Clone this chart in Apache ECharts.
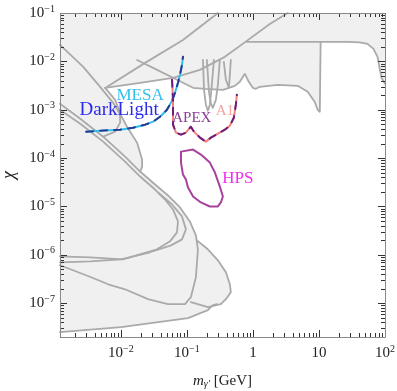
<!DOCTYPE html>
<html>
<head>
<meta charset="utf-8">
<title>dark photon</title>
<script src="https://cdn.jsdelivr.net/npm/echarts@6/dist/echarts.min.js"></script>
<style>
  html, body { margin: 0; padding: 0; background: #fff; }
  #main { width: 397px; height: 391px; }
</style>
</head>
<body>
<div id="main"></div>
<script>
// 坐标范围
const xMin = 1.2e-3, xMax = 100;
const yMin = 2e-8, yMax = 0.1;
const xTickLabels = [1e-2, 1e-1, 1, 10, 100];
const yTickLabels = [1e-7, 1e-6, 1e-5, 1e-4, 1e-3, 1e-2, 1e-1];
const xDecades = [1e-3, 1e-2, 1e-1, 1, 10, 100];
const yDecades = [1e-8, 1e-7, 1e-6, 1e-5, 1e-4, 1e-3, 1e-2, 1e-1];

// 未被排除的区域（白色）
const allowedRegion = [
  [1.2e-3, 2e-8],
  [1.2e-3, 2.52e-8], [1.01e-2, 3.2e-8], [6.17e-2, 4.46e-8], [0.104, 4.91e-8], [0.208, 7.17e-8], [0.248, 9.09e-8],
  [0.327, 9.53e-8], [0.39, 1.21e-7], [0.463, 1.69e-7], [0.448, 2.46e-7], [0.39, 4.36e-7], [0.295, 7.7e-7],
  [0.208, 1.3e-6], [0.142, 1.99e-6], [0.137, 2.52e-6], [0.111, 4.91e-6], [7.87e-2, 9.53e-6], [5.18e-2, 1.69e-5],
  [3.3e-2, 2.84e-5], [1.96e-2, 5.27e-5], [2.1e-2, 6.68e-5], [2.1e-2, 9.31e-5], [1.76e-2, 2.09e-4],
  [1.24e-2, 4.46e-4], [1.05e-2, 6.84e-4], [9.76e-3, 8.67e-4], [8.2e-3, 1.61e-3], [5.79e-3, 2.84e-3],
  [1.96e-2, 3.6e-3], [6.17e-2, 4.57e-3], [9.35e-2, 3.44e-3], [0.124, 2.84e-3], [0.188, 2.71e-3],
  [0.351, 2.58e-3], [0.533, 3.12e-3], [0.634, 3.78e-3], [0.755, 5.52e-3], [0.867, 3.78e-3], [0.997, 2.84e-3],
  [1.11, 2.71e-3], [1.27, 2.98e-3], [2.38, 3.28e-3], [4.77, 3.12e-3], [6.75, 2.35e-3], [8.61, 1.46e-3],
  [9.56, 1.0e-3], [10.3, 9.09e-4], [10.6, 9.09e-4], [10.6, 2.52e-2], [27.2, 2.52e-2], [41.3, 2.46e-2],
  [54.5, 2.3e-2], [67, 1.81e-2], [77.1, 1.24e-2], [82.7, 7.35e-3], [88.5, 4.57e-3], [100, 3.44e-3],
  [100, 2e-8]
];

// 灰色约束曲线
const curveA = [[1.2e-3, 2.19e-2], [2.7e-3, 7.71e-3], [4.86e-3, 2.98e-3], [7.65e-3, 1.39e-3], [1.05e-2, 6.84e-4],
  [1.24e-2, 4.46e-4], [1.76e-2, 2.09e-4], [2.1e-2, 9.31e-5], [2.1e-2, 6.68e-5], [1.96e-2, 5.27e-5]];
const curveB = [[5.79e-3, 2.84e-3], [8.2e-3, 1.61e-3], [9.76e-3, 8.67e-4], [9.76e-3, 5.4e-4], [8.2e-3, 3.52e-4], [5.4e-3, 2.77e-4]];
const beamDump1 = [[1.2e-3, 1.33e-3], [2.43e-3, 6.52e-4], [5.4e-3, 2.77e-4], [1.16e-2, 1.07e-4], [1.96e-2, 5.27e-5],
  [3.3e-2, 2.84e-5], [5.18e-2, 1.69e-5], [7.87e-2, 9.53e-6], [0.111, 4.91e-6], [0.137, 2.52e-6], [0.147, 1.3e-6],
  [0.137, 3.44e-7], [0.115, 1.33e-7], [9.35e-2, 9.53e-8], [5.18e-2, 9.53e-8], [2.58e-2, 1.21e-7], [1.16e-2, 1.94e-7],
  [6.43e-3, 2.46e-7], [3.56e-3, 3.44e-7], [1.2e-3, 6.08e-7]];
const beamDump2 = [[1.2e-3, 1.0e-3], [2.43e-3, 5.15e-4], [5.4e-3, 2.19e-4], [1.16e-2, 8.47e-5], [1.96e-2, 4.16e-5],
  [3.3e-2, 2.24e-5], [4.67e-2, 1.39e-5], [6.17e-2, 8.67e-6], [7.34e-2, 4.91e-6], [7.08e-2, 2.91e-6], [5.56e-2, 1.9e-6],
  [3.53e-2, 1.3e-6], [1.08e-2, 8.07e-7], [3.44e-3, 8.87e-7], [1.2e-3, 9.31e-7]];
const beamDump3 = [[3.66e-2, 1.94e-5], [5.96e-2, 1.1e-5], [8.44e-2, 6.22e-6], [9.68e-2, 3.36e-6], [8.44e-2, 2.09e-6],
  [5.75e-2, 1.57e-6], [2.77e-2, 1.13e-6], [1.01e-2, 8.07e-7], [3.44e-3, 7.34e-7], [1.2e-3, 7.0e-7]];
const rightLobe = [[0.142, 1.99e-6], [0.208, 1.3e-6], [0.295, 7.7e-7], [0.39, 4.36e-7], [0.448, 2.46e-7], [0.463, 1.69e-7],
  [0.39, 1.21e-7], [0.327, 9.53e-8], [0.208, 8.27e-8], [0.115, 1.05e-7]];
const bottomLine = [[1.2e-3, 2.52e-8], [1.01e-2, 3.2e-8], [6.17e-2, 4.46e-8], [0.104, 4.91e-8], [0.208, 7.17e-8],
  [0.248, 9.09e-8], [0.285, 9.53e-8]];
const upperLine1 = [[6.21e-3, 2.98e-3], [2.33e-2, 9.31e-3], [8.73e-2, 2.77e-2], [0.295, 0.1]];
const upperLine2 = [[5.79e-3, 2.84e-3], [1.96e-2, 3.6e-3], [6.17e-2, 4.57e-3], [0.158, 6.68e-3], [0.376, 1.24e-2],
  [0.809, 2.65e-2], [1.8, 5.93e-2], [3.37, 0.1]];
const envelopeLine = [[1.76e-2, 1.07e-2], [3.3e-2, 7.0e-3], [6.17e-2, 4.57e-3], [9.35e-2, 3.44e-3], [0.124, 2.84e-3],
  [0.188, 2.71e-3], [0.351, 2.58e-3], [0.533, 3.12e-3], [0.634, 3.78e-3], [0.755, 5.52e-3], [0.867, 3.78e-3],
  [0.997, 2.84e-3], [1.11, 2.71e-3], [1.27, 2.98e-3], [2.38, 3.28e-3], [4.77, 3.12e-3], [6.75, 2.35e-3],
  [8.61, 1.46e-3], [9.56, 1.0e-3], [10.3, 9.09e-4], [10.6, 9.09e-4], [10.6, 2.52e-2]];
const topLine = [[0.809, 2.52e-2], [27.2, 2.52e-2], [41.3, 2.46e-2], [54.5, 2.3e-2], [67, 1.81e-2], [77.1, 1.24e-2],
  [82.7, 7.35e-3], [88.5, 4.57e-3], [100, 3.44e-3]];
const comb1 = [[0.175, 1.07e-2], [0.182, 2.58e-3], [0.194, 1.27e-3], [0.208, 9.53e-4], [0.223, 1.27e-3], [0.239, 3.28e-3], [0.257, 1.07e-2]];
const comb2 = [[0.201, 1.07e-2], [0.216, 2.35e-3], [0.231, 1.33e-3], [0.248, 1.1e-3], [0.275, 1.61e-3], [0.295, 3.28e-3], [0.316, 1.07e-2]];
const comb3 = [[0.363, 9.77e-3], [0.39, 4.16e-3], [0.433, 2.84e-3], [0.448, 5.27e-3], [0.463, 1.07e-2]];

// 未来实验的预期灵敏度
const darkLightMesa = [[2.99e-3, 3.52e-4], [4.86e-3, 3.69e-4], [9.76e-3, 3.87e-4], [1.53e-2, 4.25e-4], [2.33e-2, 4.91e-4],
  [3.08e-2, 5.66e-4], [3.92e-2, 7.18e-4], [5.0e-2, 1.0e-3], [5.96e-2, 1.53e-3], [6.61e-2, 2.24e-3], [7.34e-2, 3.6e-3],
  [7.87e-2, 5.27e-3], [8.44e-2, 8.47e-3], [8.73e-2, 1.24e-2]];
const apexA1 = [[5.96e-2, 4.16e-3], [6.17e-2, 1.61e-3], [6.17e-2, 4.91e-4], [6.84e-2, 3.36e-4], [8.15e-2, 3.05e-4],
  [9.68e-2, 3.36e-4], [0.115, 4.46e-4], [0.128, 3.52e-4], [0.158, 2.65e-4], [0.194, 2.19e-4], [0.231, 2.65e-4],
  [0.295, 3.2e-4], [0.376, 3.87e-4], [0.448, 4.68e-4], [0.514, 6.84e-4], [0.552, 1.27e-3], [0.571, 2.04e-3]];
const hps = [[8.15e-2, 1.36e-4], [0.124, 1.5e-4], [0.163, 1.18e-4], [0.223, 8.07e-5], [0.266, 5.02e-5], [0.316, 2.58e-5],
  [0.351, 1.61e-5], [0.327, 1.21e-5], [0.295, 1.0e-5], [0.223, 1.0e-5], [0.163, 1.21e-5], [0.124, 1.61e-5],
  [0.104, 2.46e-5], [9.68e-2, 3.6e-5], [8.73e-2, 4.57e-5], [8.15e-2, 8.07e-5], [8.15e-2, 1.36e-4]];

function isDecade (v) {
  const l = Math.log10(v);
  return Math.abs(l - Math.round(l)) < 1e-6;
}

// 10 的幂次标签
function powLabel (list) {
  return function (value) {
    const hit = list.some(function (t) { return Math.abs(Math.log10(t) - Math.log10(value)) < 1e-6; });
    if (!hit) return '';
    const e = Math.round(Math.log10(value));
    if (e === 0) return '{b|1}';
    if (e === 1) return '{b|10}';
    return '{b|10}{s|' + (e < 0 ? '\u2212' : '') + Math.abs(e) + '}';
  };
}

function tickValues (decades, lo, hi) {
  const out = [];
  decades.forEach(function (d) {
    for (let m = 1; m <= 9; m++) {
      const v = d * m;
      if (v >= lo * 0.999 && v <= hi * 1.001) out.push(v);
    }
  });
  return out;
}

const labelRich = {
  b: { fontSize: 15, fontFamily: 'Liberation Serif', color: '#222', lineHeight: 18 },
  s: { fontSize: 10, fontFamily: 'Liberation Serif', color: '#222', verticalAlign: 'top', lineHeight: 11 }
};

function getChart () {
  const myChart = echarts.init(document.getElementById('main'));

  function lineSeries (points, color, width, dash, z) {
    return {
      type: 'line',
      data: points,
      symbol: 'none',
      silent: true,
      z: z || 3,
      lineStyle: { color: color, width: width, type: dash || 'solid', cap: 'round', join: 'round' }
    };
  }

  function areaSeries (points, color, z) {
    return {
      type: 'custom',
      coordinateSystem: 'cartesian2d',
      silent: true,
      z: z,
      data: [[1, 1e-4]],
      renderItem: function (params, api) {
        return {
          type: 'polygon',
          shape: { points: points.map(function (p) { return api.coord(p); }) },
          style: { fill: color }
        };
      }
    };
  }

  const grayColor = '#aaaaaa';
  const grayWidth = 1.8;

  // 图中文字标注
  const labelSpots = [
    { text: 'MESA', at: [1.96e-2, 1.94e-3], color: '#33c1ee', size: 17 },
    { text: 'DarkLight', at: [9.42e-3, 1.0e-3], color: '#2b2bee', size: 19 },
    { text: 'APEX', at: [0.119, 6.84e-4], color: '#8a3f99', size: 15 },
    { text: 'A1', at: [0.376, 9.53e-4], color: '#f5a3a3', size: 15 },
    { text: 'HPS', at: [0.591, 3.78e-5], color: '#ee30ee', size: 17 }
  ];

  const xTicks = tickValues(xDecades, xMin, xMax);
  const yTicks = tickValues(yDecades, yMin, yMax);

  const option = {
    animation: false,
    grid: {
      left: 60,
      right: 12,
      top: 13,
      bottom: 54,
      containLabel: false,
      outerBoundsMode: 'none', // 不让坐标系自动收缩
      show: true,
      backgroundColor: '#f0f0f0',
      borderWidth: 0
    },
    xAxis: {
      type: 'log',
      logBase: 10,
      min: xMin,
      max: xMax,
      splitNumber: 5,
      axisLine: { show: false },
      axisTick: { show: false },
      splitLine: { show: false },
      axisLabel: { margin: 7, formatter: powLabel(xTickLabels), rich: labelRich },
      name: '{i|m}{sub|\u03b3\u2032} [GeV]',
      nameLocation: 'middle',
      nameGap: 37,
      nameTextStyle: {
        fontSize: 15,
        fontFamily: 'Liberation Serif',
        color: '#222',
        rich: {
          i: { fontSize: 15, fontStyle: 'italic', fontFamily: 'Liberation Serif', color: '#222' },
          sub: { fontSize: 10, fontStyle: 'italic', fontFamily: 'Liberation Serif', color: '#222', verticalAlign: 'bottom', lineHeight: 10 }
        }
      }
    },
    yAxis: {
      type: 'log',
      logBase: 10,
      min: yMin,
      max: yMax,
      splitNumber: 7,
      axisLine: { show: false },
      axisTick: { show: false },
      splitLine: { show: false },
      axisLabel: { margin: 5, formatter: powLabel(yTickLabels), rich: labelRich },
      name: '\u03c7',
      nameLocation: 'middle',
      nameGap: 40,
      nameRotate: 90,
      nameTextStyle: { fontSize: 18, fontStyle: 'italic', fontFamily: 'Liberation Serif', color: '#222' }
    },
    series: [
      areaSeries(allowedRegion, '#ffffff', 1),
      lineSeries(curveA, grayColor, grayWidth),
      lineSeries(curveB, grayColor, grayWidth),
      lineSeries(beamDump1, grayColor, grayWidth),
      lineSeries(beamDump2, grayColor, grayWidth),
      lineSeries(beamDump3, grayColor, grayWidth),
      lineSeries(rightLobe, grayColor, grayWidth),
      lineSeries(bottomLine, grayColor, grayWidth),
      lineSeries(upperLine1, grayColor, grayWidth),
      lineSeries(upperLine2, grayColor, grayWidth),
      lineSeries(envelopeLine, grayColor, grayWidth),
      lineSeries(topLine, grayColor, grayWidth),
      lineSeries(comb1, grayColor, grayWidth),
      lineSeries(comb2, grayColor, grayWidth),
      lineSeries(comb3, grayColor, grayWidth),
      // MESA / DarkLight 交替虚线
      lineSeries(darkLightMesa, '#2fc0ee', 2, 'solid', 5),
      lineSeries(darkLightMesa, '#2b3990', 2, [7, 7], 6),
      // APEX / A1 交替虚线
      lineSeries(apexA1, '#f27e7e', 2, 'solid', 5),
      lineSeries(apexA1, '#6c1d7e', 2, [7, 7], 6),
      lineSeries(hps, '#a8429f', 2, 'solid', 5),
      {
        // 文字标注
        type: 'custom',
        coordinateSystem: 'cartesian2d',
        silent: true,
        z: 8,
        data: [[1, 1e-4]],
        renderItem: function (params, api) {
          return {
            type: 'group',
            children: labelSpots.map(function (s) {
              const p = api.coord(s.at);
              return {
                type: 'text',
                x: p[0],
                y: p[1],
                style: {
                  text: s.text,
                  fill: s.color,
                  fontSize: s.size,
                  fontFamily: 'Liberation Serif',
                  align: 'center',
                  verticalAlign: 'middle'
                }
              };
            })
          };
        }
      },
      {
        // 四周刻度线和边框
        type: 'custom',
        coordinateSystem: 'cartesian2d',
        silent: true,
        z: 10,
        data: [[1, 1e-4]],
        renderItem: function (params, api) {
          const cs = params.coordSys;
          const l = cs.x, r = cs.x + cs.width, t = cs.y, b = cs.y + cs.height;
          const children = [];
          function seg (x1, y1, x2, y2) {
            return { type: 'line', shape: { x1: x1, y1: y1, x2: x2, y2: y2 }, style: { stroke: '#333', lineWidth: 1 } };
          }
          xTicks.forEach(function (v) {
            const px = Math.round(api.coord([v, yMax])[0]) + 0.5;
            const len = isDecade(v) ? 7 : 4;
            children.push(seg(px, b, px, b - len), seg(px, t, px, t + len));
          });
          yTicks.forEach(function (v) {
            const py = Math.round(api.coord([xMax, v])[1]) + 0.5;
            const len = isDecade(v) ? 7 : 4;
            children.push(seg(l, py, l + len, py), seg(r, py, r - len, py));
          });
          children.push({
            type: 'rect',
            shape: { x: Math.round(l) + 0.5, y: Math.round(t) + 0.5, width: Math.round(cs.width), height: Math.round(cs.height) },
            style: { fill: 'none', stroke: '#888', lineWidth: 1 }
          });
          return { type: 'group', children: children };
        }
      }
    ]
  };

  myChart.setOption(option);

  window.addEventListener('resize', function () {
    myChart.resize();
  });
}

getChart();
</script>
</body>
</html>
